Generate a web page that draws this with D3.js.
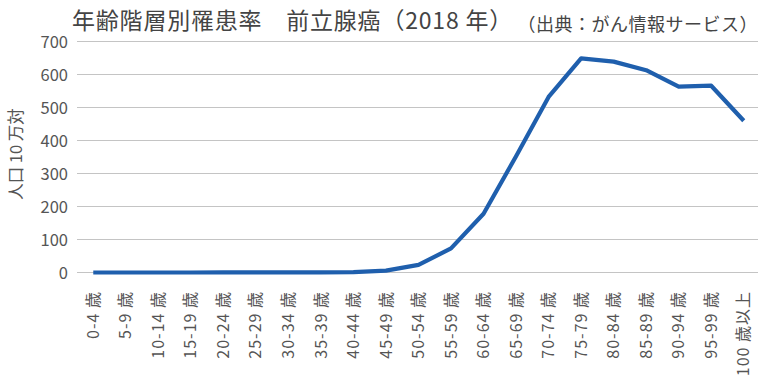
<!DOCTYPE html>
<html><head><meta charset="utf-8">
<script src="https://cdn.jsdelivr.net/npm/d3@7"></script>
<style>body{margin:0;background:#fff}svg{display:block}text{font-family:"Noto Sans CJK JP","Noto Sans",sans-serif}</style>
</head><body><svg id="c" width="760" height="380"></svg>
<script>
const categories = ["0-4 歳","5-9 歳","10-14 歳","15-19 歳","20-24 歳","25-29 歳","30-34 歳","35-39 歳","40-44 歳","45-49 歳","50-54 歳","55-59 歳","60-64 歳","65-69 歳","70-74 歳","75-79 歳","80-84 歳","85-89 歳","90-94 歳","95-99 歳","100 歳以上"];
const values = [0,0,0,0,0.1,0.1,0.2,0.4,1.3,5.5,23,73,178,352,532,649,639,613,563,566,460];
const yTicks = [0,100,200,300,400,500,600,700];
const titleText = "年齢階層別罹患率　前立腺癌（2018 年）";
const sourceText = "（出典：がん情報サービス）";
const yLabel = "人口 10 万対";

const svg = d3.select("#c");
const x = d3.scaleBand().domain(categories).range([77, 760]);
const y = d3.scaleLinear().domain([0, 700]).range([272.5, 41.5]);

// gridlines
svg.append("g").selectAll("line").data(yTicks).join("line")
  .attr("x1", 77).attr("x2", 758)
  .attr("y1", d => y(d)).attr("y2", d => y(d))
  .attr("stroke", "#c4c4c4").attr("stroke-width", 1);

// y axis
const yAxis = d3.axisLeft(y).tickValues(yTicks).tickSize(0).tickPadding(0);
const gy = svg.append("g").attr("transform", "translate(68,0)").call(yAxis);
gy.select(".domain").remove();
gy.selectAll("text").attr("font-size", 16.5).attr("fill", "#555").attr("dy", "0.35em");

// x axis
const xAxis = d3.axisBottom(x).tickSize(0).tickPadding(0);
const gx = svg.append("g").attr("transform", "translate(0,288)").call(xAxis);
gx.select(".domain").remove();
gx.selectAll("text").attr("font-size", 16).attr("fill", "#555")
  .attr("letter-spacing", 1)
  .attr("transform", "rotate(-90)").attr("text-anchor", "end")
  .attr("x", -3).attr("y", 0).attr("dy", "0.35em");

// line
const line = d3.line().x((d, i) => x(categories[i]) + x.bandwidth() / 2).y(d => y(d));
svg.append("path").datum(values).attr("d", line)
  .attr("fill", "none").attr("stroke", "#1f5fad").attr("stroke-width", 4.2)
  .attr("stroke-linejoin", "round");

// titles
svg.append("text").attr("x", 72).attr("y", 29).attr("font-size", 23).attr("letter-spacing", 0.8).attr("fill", "#444").text(titleText);
svg.append("text").attr("x", 758).attr("y", 31).attr("text-anchor", "end").attr("font-size", 18).attr("letter-spacing", 0.5).attr("fill", "#444").text(sourceText);
svg.append("text").attr("transform", "translate(22,154) rotate(-90)").attr("text-anchor", "middle")
  .attr("font-size", 16.5).attr("fill", "#555").text(yLabel);
</script></body></html>
